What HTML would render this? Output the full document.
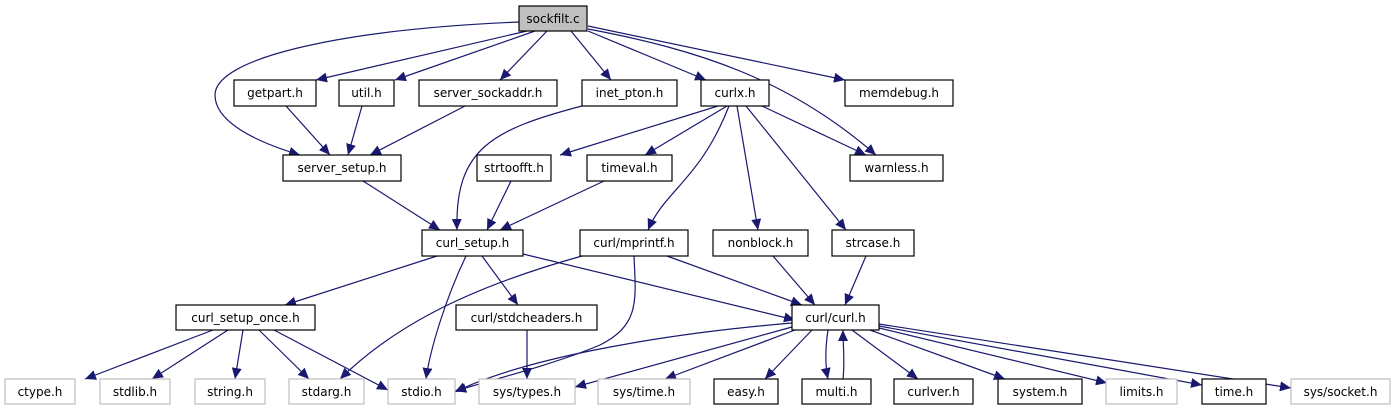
<!DOCTYPE html>
<html><head><meta charset="utf-8"><style>
html,body{margin:0;padding:0;background:#fff;}
svg{display:block;}
text{font-family:"DejaVu Sans","Liberation Sans",sans-serif;font-size:12px;fill:#000;}
</style></head><body>
<svg width="1396" height="411" viewBox="0 0 1396 411" xmlns="http://www.w3.org/2000/svg">
<defs>
<marker id="a" markerUnits="userSpaceOnUse" markerWidth="12" markerHeight="10" refX="11" refY="5" orient="auto">
<path d="M0,0 L11,5 L0,10 z" fill="#191970"/>
</marker>
</defs>
<g fill="none" stroke="#191970" stroke-width="1.2" marker-end="url(#a)">
<path d="M519,22 C330,30 215,60 215,95 C215,120 250,140 300,155"/>
<path d="M527,31 L316,80"/>
<path d="M535,31 L395,80"/>
<path d="M547,31 L500,80"/>
<path d="M571,31 L611,80"/>
<path d="M588,31 L706,80"/>
<path d="M588,26 L845,80"/>
<path d="M588,29 C700,50 790,80 876,155"/>
<path d="M286,106 L330,155"/>
<path d="M362,106 L348,155"/>
<path d="M465,106 L370,155"/>
<path d="M582,106 C490,130 455,150 457,230"/>
<path d="M363,181 L440,230"/>
<path d="M511,181 L487,230"/>
<path d="M604,181 L500,230"/>
<path d="M718,106 L560,155"/>
<path d="M727,106 L645,155"/>
<path d="M762,106 L866,155"/>
<path d="M729,106 C700,180 665,190 648,230"/>
<path d="M737,106 L758,230"/>
<path d="M746,106 L846,230"/>
<path d="M437,256 L285,305"/>
<path d="M466,256 C445,300 430,350 426,379"/>
<path d="M482,256 L518,305"/>
<path d="M523,254 L795,320"/>
<path d="M582,256 C460,290 390,330 340,379"/>
<path d="M634,256 C636,300 640,325 600,345 C560,362 500,378 455,391"/>
<path d="M667,256 L802,305"/>
<path d="M773,256 L815,305"/>
<path d="M866,256 L845,305"/>
<path d="M213,330 L85,379"/>
<path d="M228,330 L152,379"/>
<path d="M243,330 L235,379"/>
<path d="M259,330 L309,379"/>
<path d="M274,330 L388,390"/>
<path d="M527,330 L527,379"/>
<path d="M792,323 C650,335 520,360 455,392"/>
<path d="M792,327 L575,387"/>
<path d="M795,330 L665,379"/>
<path d="M812,330 L765,379"/>
<path d="M828,330 C825,350 825,365 828,379"/>
<path d="M843,379 C845,362 843,345 843,330"/>
<path d="M852,330 L918,379"/>
<path d="M870,330 L1005,379"/>
<path d="M879,328 L1107,383"/>
<path d="M879,326 L1202,385"/>
<path d="M879,324 L1291,388"/>
</g>
<g stroke-width="1.2">
<rect x="519" y="6" width="68" height="25" fill="#bfbfbf" stroke="#000"/>
<g fill="#fff" stroke="#000">
<rect x="234" y="80" width="82" height="26"/>
<rect x="339" y="80" width="55" height="26"/>
<rect x="419" y="80" width="138" height="26"/>
<rect x="582" y="80" width="95" height="26"/>
<rect x="701" y="80" width="68" height="26"/>
<rect x="845" y="80" width="108" height="26"/>
<rect x="283" y="155" width="118" height="26"/>
<rect x="477" y="155" width="74" height="26"/>
<rect x="587" y="155" width="85" height="26"/>
<rect x="850" y="155" width="93" height="26"/>
<rect x="422" y="230" width="101" height="26"/>
<rect x="580" y="230" width="108" height="26"/>
<rect x="713" y="230" width="95" height="26"/>
<rect x="832" y="230" width="82" height="26"/>
<rect x="176" y="305" width="139" height="25"/>
<rect x="456" y="305" width="141" height="25"/>
<rect x="792" y="305" width="87" height="25"/>
<rect x="714" y="379" width="64" height="25"/>
<rect x="802" y="379" width="69" height="25"/>
<rect x="894" y="379" width="79" height="25"/>
<rect x="998" y="379" width="84" height="25"/>
<rect x="1202" y="379" width="64" height="25"/>
</g>
<g fill="#fff" stroke="#bfbfbf">
<rect x="5" y="379" width="70" height="25"/>
<rect x="100" y="379" width="70" height="25"/>
<rect x="195" y="379" width="70" height="25"/>
<rect x="289" y="379" width="75" height="25"/>
<rect x="388" y="379" width="67" height="25"/>
<rect x="479" y="379" width="96" height="25"/>
<rect x="598" y="379" width="92" height="25"/>
<rect x="1106" y="379" width="71" height="25"/>
<rect x="1291" y="379" width="99" height="25"/>
</g>
</g>
<g text-anchor="middle">
<text x="553" y="23">sockfilt.c</text>
<text x="275" y="97">getpart.h</text>
<text x="366.5" y="97">util.h</text>
<text x="488" y="97">server_sockaddr.h</text>
<text x="629.5" y="97">inet_pton.h</text>
<text x="735" y="97">curlx.h</text>
<text x="899" y="97">memdebug.h</text>
<text x="342" y="172">server_setup.h</text>
<text x="514" y="172">strtoofft.h</text>
<text x="629.5" y="172">timeval.h</text>
<text x="896.5" y="172">warnless.h</text>
<text x="472.5" y="247">curl_setup.h</text>
<text x="634" y="247">curl/mprintf.h</text>
<text x="760.5" y="247">nonblock.h</text>
<text x="873" y="247">strcase.h</text>
<text x="245.5" y="322">curl_setup_once.h</text>
<text x="526.5" y="322">curl/stdcheaders.h</text>
<text x="835.5" y="322">curl/curl.h</text>
<text x="40" y="396">ctype.h</text>
<text x="135" y="396">stdlib.h</text>
<text x="230" y="396">string.h</text>
<text x="326.5" y="396">stdarg.h</text>
<text x="421.5" y="396">stdio.h</text>
<text x="527" y="396">sys/types.h</text>
<text x="644" y="396">sys/time.h</text>
<text x="746" y="396">easy.h</text>
<text x="836.5" y="396">multi.h</text>
<text x="933.5" y="396">curlver.h</text>
<text x="1040" y="396">system.h</text>
<text x="1141.5" y="396">limits.h</text>
<text x="1234" y="396">time.h</text>
<text x="1340.5" y="396">sys/socket.h</text>
</g>
</svg>
</body></html>
